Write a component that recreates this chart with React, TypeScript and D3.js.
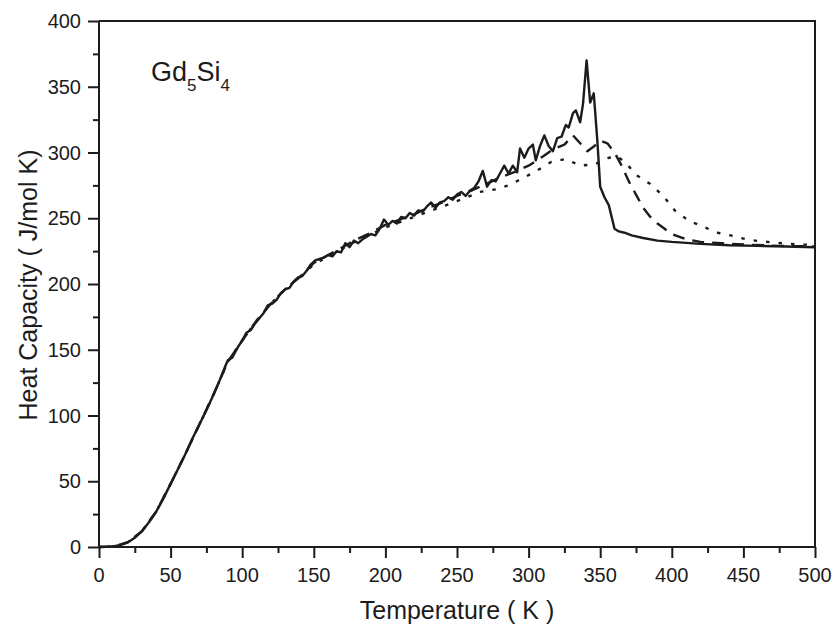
import * as d3 from "d3";
import { useEffect, useRef } from "react";

// temperature (K) and heat capacity (J/mol K)
const solidT = [0, 5, 10, 15, 20, 25, 30, 35, 40, 45, 50, 55, 60, 65, 70, 75, 80, 84, 88, 90, 93, 97, 100, 103, 106, 109, 112, 115, 118, 121, 124, 127, 130, 133, 136, 139, 142, 145, 148, 151, 154, 157, 160, 163, 166, 169, 172, 175, 178, 181, 184, 187, 190, 193, 196, 199, 202, 205, 208, 211, 214, 217, 220, 223, 226, 229, 232, 235, 238, 241, 244, 247, 250, 253, 256, 259, 262, 265, 268, 271, 274, 277, 280, 283, 286, 289, 292, 294, 297, 300, 303, 305, 308, 311, 314, 317, 320, 323, 326, 328, 331, 333, 336, 338, 340.5, 343, 345.5, 348, 350, 353, 356, 360, 363, 367, 372, 380, 390, 400, 420, 440, 460, 480, 500];
const solidC = [0, 0.1, 0.5, 1.5, 3.5, 7, 12, 19, 27, 37, 48, 59, 70, 82, 93, 104, 116, 126, 137, 142, 144, 152, 157, 163, 165, 170, 174, 178, 184, 185, 188, 193, 196, 197, 202, 205, 206, 210, 215, 218, 219, 220, 222, 221, 225, 224, 231, 228, 233, 231, 234, 236, 238, 237, 242, 249, 245, 248, 246, 251, 250, 254, 252, 256, 255, 259, 262, 258, 262, 263, 266, 264, 268, 270, 267, 271, 273, 278, 286, 274, 279, 278, 284, 290, 284, 290, 285, 303, 296, 303, 306, 294, 305, 313, 305, 301, 311, 312, 321, 319, 330, 332, 323, 337, 370, 338, 345, 309, 274, 266, 260, 242, 240, 239, 237, 235, 233, 232, 230.5, 229.5, 229, 228.5, 228];

const dashT = [0, 10, 20, 30, 40, 50, 60, 70, 80, 90, 100, 110, 120, 130, 140, 150, 160, 170, 180, 190, 200, 210, 220, 230, 240, 250, 260, 270, 280, 290, 300, 310, 318, 325, 331, 336, 341, 346, 350, 355, 360, 365, 370, 375, 380, 385, 390, 395, 400, 410, 420, 435, 450, 475, 500];
const dashC = [0, 0.5, 3.5, 12, 27, 48, 70, 93, 116, 141, 157, 172, 185, 196, 205, 216, 222, 228, 234, 239, 245, 249, 253, 258, 262, 267, 271, 276, 281, 285, 290, 297, 303, 306, 313, 307, 301, 305, 309, 307, 300, 290, 278, 268, 258, 251, 246, 242, 238, 234, 232, 231, 230, 229, 228.5];

const dotT = [0, 10, 20, 30, 40, 50, 60, 70, 80, 90, 100, 110, 120, 130, 140, 150, 160, 170, 180, 190, 200, 210, 220, 230, 240, 250, 257, 266, 277, 286, 297, 307, 316, 326, 336, 346, 356, 362, 368, 375, 385, 394, 402, 412, 421, 432, 441, 452, 461, 471, 481, 492, 500];
const dotC = [0, 0.5, 3.5, 12, 27, 48, 70, 93, 116, 141, 157, 172, 185, 196, 205, 215, 221, 227, 233, 238, 243, 247, 251, 255, 259, 263, 266, 270, 272, 275, 281, 287, 293, 295, 290, 291, 296, 297, 292, 283, 276, 267, 256, 248, 244, 239, 237, 234, 232.6, 231.6, 230.6, 230, 229.8];

const xTicks = [0, 50, 100, 150, 200, 250, 300, 350, 400, 450, 500];
const yTicks = [0, 50, 100, 150, 200, 250, 300, 350, 400];

export default function App() {
  const ref = useRef<SVGSVGElement | null>(null);

  useEffect(() => {
    document.body.style.margin = "0";
    const svg = d3.select(ref.current);
    svg.selectAll("*").remove();

    const left = 99, right = 815, top = 21, bottom = 547;
    const ink = "#1c1c1c";
    const font = "'Liberation Sans', Arial, Helvetica, sans-serif";

    const x = d3.scaleLinear().domain([0, 500]).range([left, right]);
    const y = d3.scaleLinear().domain([0, 400]).range([bottom, top]);

    const line = d3.line<[number, number]>()
      .x(d => x(d[0]))
      .y(d => y(d[1]));

    const series = [
      { t: dotT, c: dotC, dash: "3.5,9" },
      { t: dashT, c: dashC, dash: "12,8" },
      { t: solidT, c: solidC, dash: null },
    ];

    const plot = svg.append("g");
    series.forEach(s => {
      const pts = s.t.map((t, i) => [t, s.c[i]] as [number, number]);
      plot.append("path")
        .attr("d", line(pts))
        .attr("fill", "none")
        .attr("stroke", ink)
        .attr("stroke-width", 2.4)
        .attr("stroke-linejoin", "round")
        .attr("stroke-dasharray", s.dash);
    });

    // frame top and right
    svg.append("path")
      .attr("d", `M${left},${top}H${right}V${bottom}`)
      .attr("fill", "none")
      .attr("stroke", ink)
      .attr("stroke-width", 2);

    // bottom axis
    const xAxis = svg.append("g")
      .attr("transform", `translate(0,${bottom})`)
      .call(d3.axisBottom(x).tickValues(d3.range(0, 501, 25)).tickSize(6).tickFormat(() => ""));
    xAxis.selectAll(".tick line")
      .attr("y2", (d: any) => (d % 50 === 0 ? 11 : 6));
    xAxis.append("g").call(g => {
      xTicks.forEach(v => {
        g.append("text")
          .attr("x", x(v))
          .attr("y", 35)
          .attr("text-anchor", "middle")
          .text(v);
      });
    });

    // left axis
    const yAxis = svg.append("g")
      .attr("transform", `translate(${left},0)`)
      .call(d3.axisLeft(y).tickValues(d3.range(0, 401, 25)).tickSize(6).tickFormat(() => ""));
    yAxis.selectAll(".tick line")
      .attr("x2", (d: any) => (d % 50 === 0 ? -11 : -6));
    yAxis.append("g").call(g => {
      yTicks.forEach(v => {
        g.append("text")
          .attr("x", -18)
          .attr("y", y(v) + 7)
          .attr("text-anchor", "end")
          .text(v);
      });
    });

    [xAxis, yAxis].forEach(a => {
      a.select(".domain").attr("stroke", ink).attr("stroke-width", 2)
        .attr("d", a === xAxis ? `M${left},0H${right}` : `M0,${bottom}V${top}`);
      a.selectAll(".tick line").attr("stroke", ink).attr("stroke-width", 2);
      a.selectAll("text").attr("fill", ink).attr("font-family", font).attr("font-size", 20);
    });

    // axis titles
    svg.append("text")
      .attr("x", (left + right) / 2)
      .attr("y", 619)
      .attr("text-anchor", "middle")
      .attr("font-family", font)
      .attr("font-size", 25)
      .attr("fill", ink)
      .text("Temperature ( K )");

    svg.append("text")
      .attr("transform", `translate(37,285) rotate(-90)`)
      .attr("text-anchor", "middle")
      .attr("font-family", font)
      .attr("font-size", 25)
      .attr("fill", ink)
      .text("Heat Capacity ( J/mol K)");

    // compound label
    const lab = svg.append("text")
      .attr("x", 151)
      .attr("y", 81)
      .attr("font-family", font)
      .attr("font-size", 27)
      .attr("fill", ink);
    lab.append("tspan").text("Gd");
    lab.append("tspan").attr("font-size", 17).attr("dy", 10).text("5");
    lab.append("tspan").attr("dy", -10).text("Si");
    lab.append("tspan").attr("font-size", 17).attr("dy", 10).text("4");
  }, []);

  return <svg ref={ref} width={834} height={630} style={{ display: "block", background: "#fff" }} />;
}
